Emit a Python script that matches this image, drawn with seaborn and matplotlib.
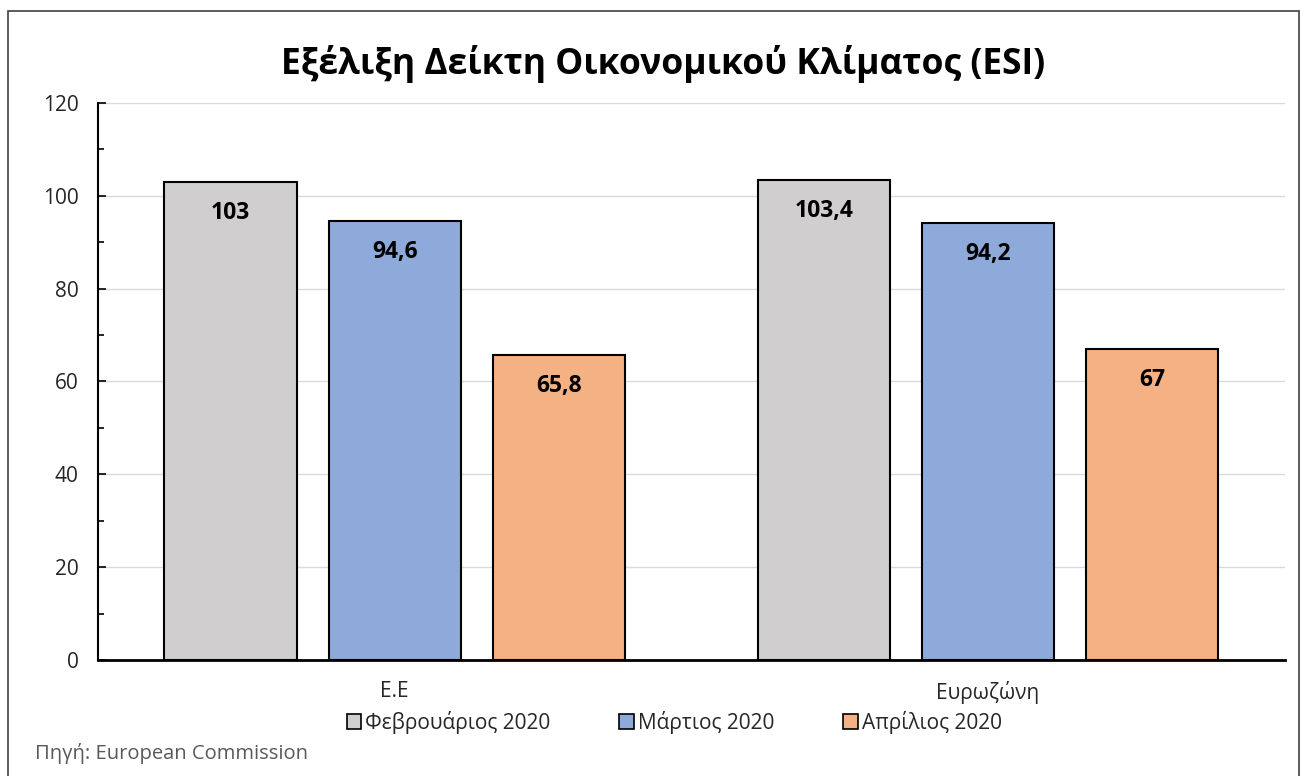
import matplotlib
matplotlib.use("Agg")
import matplotlib.pyplot as plt
import seaborn as sns
import pandas as pd
from matplotlib.patches import Rectangle, Patch
from matplotlib.ticker import MultipleLocator

regions = ["Ε.Ε", "Ευρωζώνη"]
months = ["Φεβρουάριος 2020", "Μάρτιος 2020", "Απρίλιος 2020"]
feb_values = [103, 103.4]
mar_values = [94.6, 94.2]
apr_values = [65.8, 67]
colors = ["#D0CECE", "#8EAADB", "#F4B183"]
title = "Εξέλιξη Δείκτη Οικονομικού Κλίματος (ESI)"
source = "Πηγή: European Commission"

rows = []
for m, vals in zip(months, [feb_values, mar_values, apr_values]):
    for r, v in zip(regions, vals):
        rows.append({"region": r, "month": m, "value": v})
df = pd.DataFrame(rows)

sns.set_theme(style="white")
plt.rcParams['font.family'] = ['Open Sans', 'DejaVu Sans']

fig = plt.figure(figsize=(13.07, 7.76), dpi=100)
ax = fig.add_axes([0.075, 0.1495, 0.908, 0.7178])

sns.barplot(data=df, x="region", y="value", hue="month", order=regions,
            hue_order=months, palette=colors, saturation=1, width=0.83, gap=0.195,
            edgecolor="black", linewidth=1.5, ax=ax, legend=False, errorbar=None)

ax.set_ylim(0, 120)
ax.set_xlim(-0.5, 1.5)
ax.yaxis.set_major_locator(MultipleLocator(20))
ax.yaxis.set_minor_locator(MultipleLocator(10))
ax.grid(axis="y", which="major", color="#D9D9D9", linewidth=1)
ax.set_axisbelow(True)
for s in ["top", "right"]:
    ax.spines[s].set_visible(False)
ax.spines["left"].set_color("black")
ax.spines["left"].set_linewidth(1.5)
ax.spines["bottom"].set_color("black")
ax.spines["bottom"].set_linewidth(2)
ax.tick_params(axis="y", which="major", direction="in", length=6, width=1.2,
               color="black", left=True, labelsize=15, pad=14)
ax.tick_params(axis="y", which="minor", direction="in", length=4, width=1.2,
               color="black", left=True)
ax.tick_params(axis="x", length=0, labelsize=15, pad=15)
ax.set_xlabel("")
ax.set_ylabel("")

for cont in ax.containers:
    labels = [("%g" % b.get_height()).replace(".", ",") for b in cont]
    ax.bar_label(cont, labels=labels, label_type="edge", padding=-31,
                 fontsize=16.5, fontweight="bold", color="black")

fig.text(0.507, 0.918, title, ha="center", va="center", fontsize=25.5,
         fontweight="bold", color="black")

handles = [Patch(facecolor=c, edgecolor="black", linewidth=1.2) for c in colors]
fig.legend(handles, months, loc="center", bbox_to_anchor=(0.516, 0.069), ncol=3,
           frameon=False, fontsize=15, handlelength=0.7, handleheight=0.7,
           handletextpad=0.2, columnspacing=3.3)

fig.text(0.027, 0.029, source, ha="left", va="center", fontsize=14.5, color="#595959")

fig.add_artist(Rectangle((0.006, -0.02), 0.988, 1.006, transform=fig.transFigure,
                         fill=False, edgecolor="#404040", linewidth=1.2))

fig.savefig("out.png", dpi=100)
